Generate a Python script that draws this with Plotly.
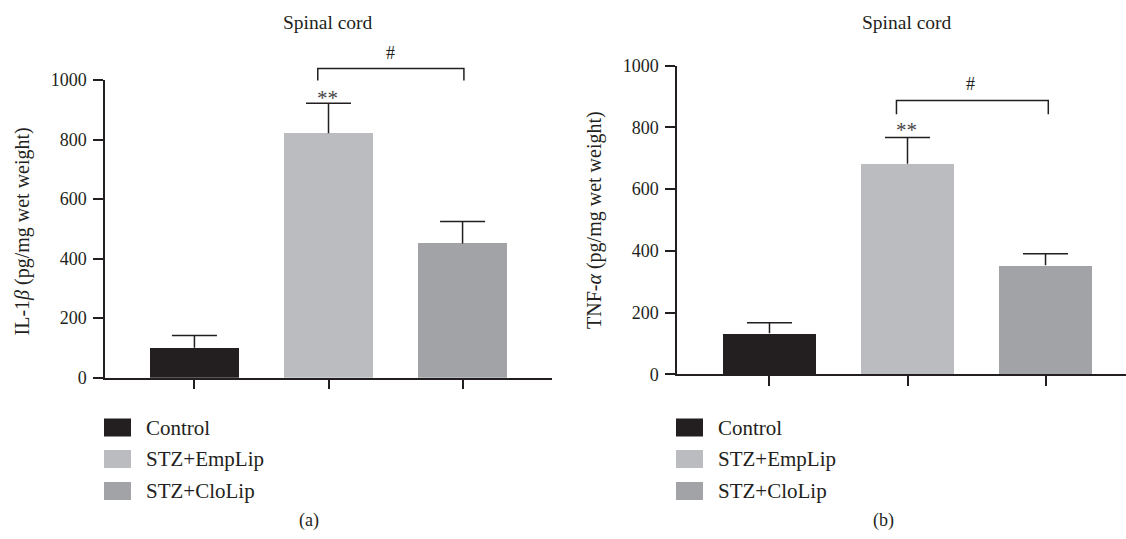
import plotly.graph_objects as go

# ---------------- data ----------------
groups = ["Control", "STZ+EmpLip", "STZ+CloLip"]
colors = ["#231f20", "#bbbcc0", "#a2a3a7"]

il1b_mean = [101, 821, 451]
il1b_err = [41, 101, 74]

tnf_mean = [133, 682, 353]
tnf_err = [34, 85, 38]

panel_titles = ["Spinal cord", "Spinal cord"]
y_titles = ["IL-1<i>β</i> (pg/mg wet weight)", "TNF-<i>α</i> (pg/mg wet weight)"]
panel_labels = ["(a)", "(b)"]
y_ticks = [0, 200, 400, 600, 800, 1000]

# significance marks: (text, x category position, y value)
sig_star = [("**", 0.99, 940), ("**", 0.99, 792)]
sig_hash = [("#", 1.46, 1092), ("#", 1.46, 941)]
# bracket: x0, x1, y bar, y legs end
brackets = [(0.92, 2.01, 1039, 998), (0.92, 2.02, 887, 843)]

# ---------------- layout geometry (pixels) ----------------
W, H = 1126, 539
INK = "#231f20"
FONT = "Liberation Serif"
CAP_PX = 22.5

panels = [
    dict(xpx=(105, 552), xr=(-0.667, 2.667), ypx=(80, 377.7)),
    dict(xpx=(677, 1126), xr=(-0.67, 2.583), ypx=(65.7, 374.3)),
]


def px_x(p):
    return p / W


def px_y(p):
    return 1 - p / H


def data_to_paper(i, xv, yv):
    pn = panels[i]
    x0, x1 = pn["xpx"]
    r0, r1 = pn["xr"]
    xp = x0 + (xv - r0) / (r1 - r0) * (x1 - x0)
    yt, yb = pn["ypx"]
    yp = yb - yv / 1000 * (yb - yt)
    return px_x(xp), px_y(yp)


fig = go.Figure()

means = [il1b_mean, tnf_mean]
errs = [il1b_err, tnf_err]
for i in range(2):
    sfx = "" if i == 0 else "2"
    pn = panels[i]
    fig.add_trace(go.Bar(
        x=[0, 1, 2], y=means[i],
        marker=dict(color=colors, line=dict(width=0)),
        width=0.67,
        xaxis="x" + sfx, yaxis="y" + sfx, showlegend=False, hoverinfo="skip",
    ))
    # upper-only error bars (stem + cap) built from the mean/error arrays
    unit_px = (pn["xpx"][1] - pn["xpx"][0]) / (pn["xr"][1] - pn["xr"][0])
    half = CAP_PX / unit_px
    ex, ey = [], []
    for k, (m, e) in enumerate(zip(means[i], errs[i])):
        ex += [k, k, None, k - half, k + half, None]
        ey += [m, m + e, None, m + e, m + e, None]
    fig.add_trace(go.Scatter(
        x=ex, y=ey, mode="lines", line=dict(color=INK, width=1.5),
        xaxis="x" + sfx, yaxis="y" + sfx, showlegend=False, hoverinfo="skip",
        cliponaxis=False,
    ))

axis_common_x = dict(
    showline=True, linecolor=INK, linewidth=1.5, ticks="outside", ticklen=10,
    tickwidth=1.5, tickcolor=INK, tickvals=[0, 1, 2], showticklabels=False,
    showgrid=False, zeroline=False, automargin=False,
)
axis_common_y = dict(
    showline=True, linecolor=INK, linewidth=1.5, ticks="outside", ticklen=10,
    tickwidth=1.5, tickcolor=INK, tickvals=y_ticks, range=[0, 1000],
    showgrid=False, zeroline=False, ticklabelstandoff=3, automargin=False,
    tickfont=dict(family=FONT, size=18, color=INK),
)

layout = dict(
    template="none",
    width=W, height=H,
    margin=dict(l=0, r=0, t=0, b=0, pad=0, autoexpand=False),
    paper_bgcolor="white", plot_bgcolor="white",
    bargap=0, showlegend=False,
)
for i in range(2):
    sfx = "" if i == 0 else "2"
    pn = panels[i]
    layout["xaxis" + sfx] = dict(
        axis_common_x,
        domain=[px_x(pn["xpx"][0]), px_x(pn["xpx"][1])],
        range=list(pn["xr"]), anchor="y" + sfx,
    )
    layout["yaxis" + sfx] = dict(
        axis_common_y,
        domain=[px_y(pn["ypx"][1]), px_y(pn["ypx"][0])],
        anchor="x" + sfx,
    )
fig.update_layout(**layout)

shapes = []
annotations = []
title_pos = [(328, 22.7, 22, 231.5, 309), (907, 22.7, 594, 220, 883)]
legend_geo = [(104, 131, 144), (676, 703, 716)]
legend_rows = [427.5, 459, 491]


def ann(text, x, y, size, **kw):
    d = dict(text=text, x=x, y=y, xref="paper", yref="paper", showarrow=False,
             xanchor="center", yanchor="middle",
             font=dict(family=FONT, size=size, color=INK))
    d.update(kw)
    return d


for i in range(2):
    tx, ty, ax_x, ax_y, lab_x = title_pos[i]
    annotations.append(ann(panel_titles[i], px_x(tx), px_y(ty), 19.5))
    annotations.append(ann(y_titles[i], px_x(ax_x), px_y(ax_y), 20, textangle=-90))
    annotations.append(ann(panel_labels[i], px_x(lab_x), px_y(520), 18))
    # significance text
    t, xv, yv = sig_star[i]
    xp, yp = data_to_paper(i, xv, yv)
    annotations.append(ann(t, xp, yp, 21, font=dict(family=FONT, size=21, color="#444")))
    t, xv, yv = sig_hash[i]
    xp, yp = data_to_paper(i, xv, yv)
    annotations.append(ann(t, xp, yp, 18))
    # bracket
    bx0, bx1, by, byl = brackets[i]
    p0 = data_to_paper(i, bx0, byl)
    p1 = data_to_paper(i, bx0, by)
    p2 = data_to_paper(i, bx1, by)
    p3 = data_to_paper(i, bx1, byl)
    path = "M {} {} L {} {} L {} {} L {} {}".format(p0[0], p0[1], p1[0], p1[1],
                                                    p2[0], p2[1], p3[0], p3[1])
    shapes.append(dict(type="path", path=path, xref="paper", yref="paper",
                       line=dict(color=INK, width=1.5)))
    # legend
    sx0, sx1, tx0 = legend_geo[i]
    for g, c, ry in zip(groups, colors, legend_rows):
        shapes.append(dict(type="rect", xref="paper", yref="paper",
                           x0=px_x(sx0), x1=px_x(sx1),
                           y0=px_y(ry - 9), y1=px_y(ry + 9),
                           fillcolor=c, line=dict(width=0)))
        annotations.append(ann(g, px_x(tx0), px_y(ry), 21, xanchor="left"))

fig.update_layout(shapes=shapes, annotations=annotations)
fig.write_html("out.html",
               config={"displayModeBar": False},
               post_script="document.body.style.margin='0';"
                           "document.body.style.overflow='hidden';")
